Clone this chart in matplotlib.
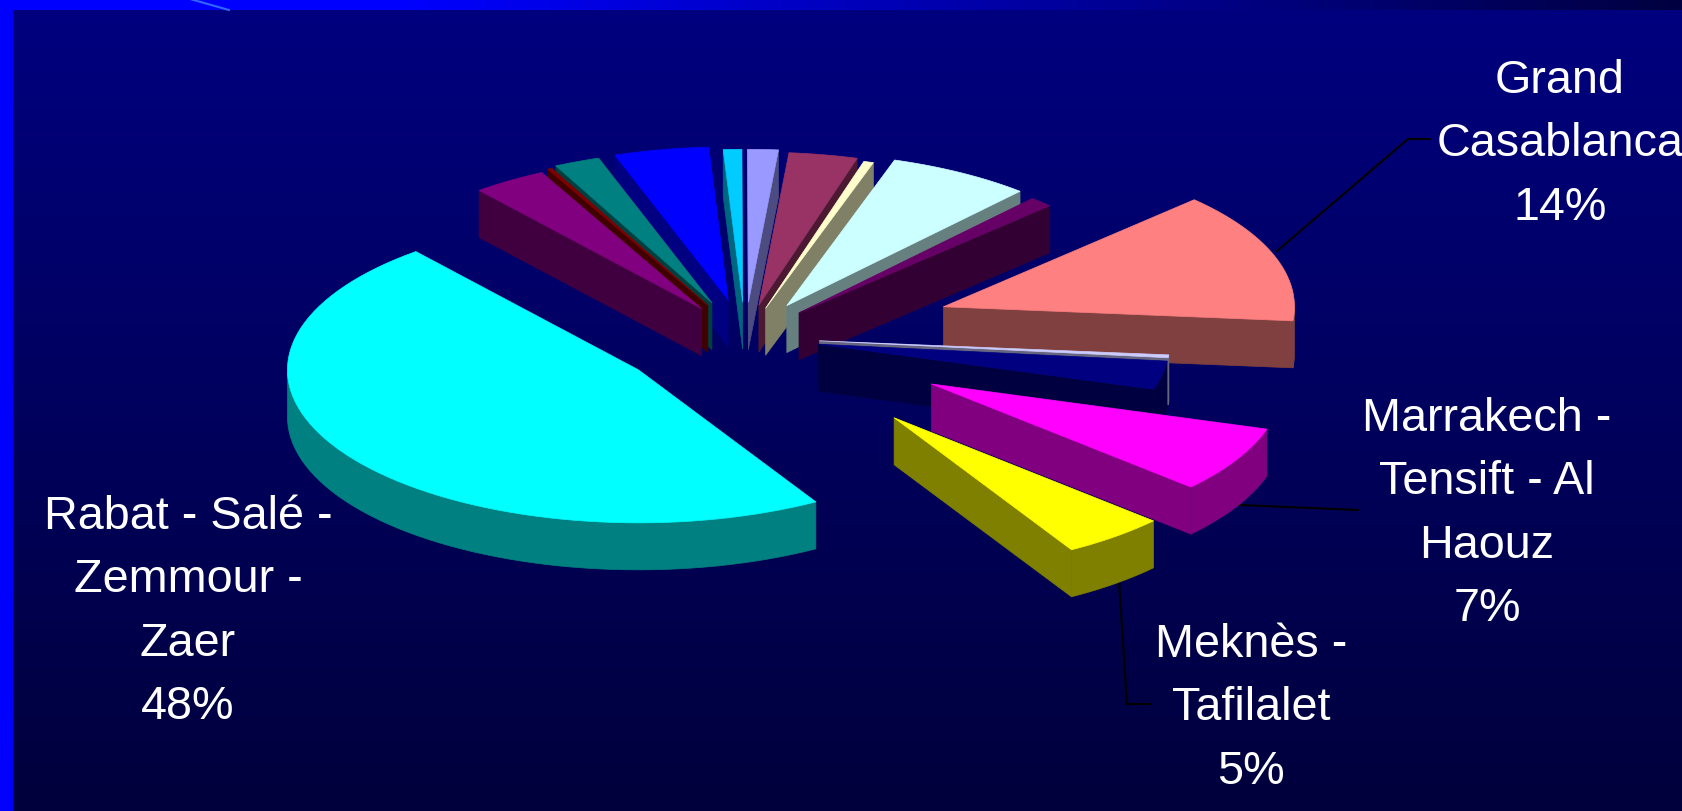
import matplotlib
matplotlib.use("Agg")
import matplotlib.pyplot as plt
from matplotlib.patches import Polygon
import numpy as np

# share of each region, clockwise from the Grand Casablanca slice
values = [13.8, 0.3, 3.0, 7, 4.8, 47.5, 3.4, 0.2, 2.1, 4.35, 0.85, 1.4, 3.15, 0.45, 6.6, 1.1]
top_colors = ["#FF8080", "#CCCCFF", "#000080", "#FF00FF", "#FFFF00", "#00FFFF",
              "#800080", "#800000", "#008080", "#0000FF", "#00CCFF", "#9999FF",
              "#993366", "#FFFFCC", "#CCFFFF", "#660066"]
side_colors = ["#804040", "#666680", "#000040", "#800080", "#808000", "#008080",
               "#400040", "#400000", "#004040", "#000080", "#006680", "#4C4C80",
               "#4C1933", "#808066", "#668080", "#330033"]
explode = [0.60, 0.213, 0.213, 0.612, 0.675, 0.37, 0.225, 0.235, 0.245, 0.25, 0.23, 0.23, 0.215, 0.20, 0.24, 0.223]
labels = ["Grand\nCasablanca\n14%", "Marrakech -\nTensift - Al\nHaouz\n7%",
          "Meknès -\nTafilalet\n5%", "Rabat - Salé -\nZemmour -\nZaer\n48%"]

# layout of the pie, in pixels
start_angle = 45.6
center = (745, 338.5)
rx, ry, depth = 351, 153, 47

label_x = [1560, 1487, 1251, 188]
label_y = [144.5, 514, 708.5, 612]
leaders = [([1277, 1408, 1430], [252, 140, 140]),
           ([1239, 1358], [506, 511]),
           ([1119, 1127, 1150], [582, 705, 705])]

W, H = 1683, 812
fig = plt.figure(figsize=(W / 100, H / 100), dpi=100)
ax = fig.add_axes([0, 0, 1, 1])

# slide background
grad = np.linspace(0x80, 0x3c, 256)[:, None] / 255
ax.imshow(np.dstack([0 * grad, 0 * grad, grad]), extent=[0, W, H, 0], aspect="auto", zorder=0)
fade = np.interp(np.linspace(0, W, 512), [0, 400, W], [1, 1, 0x40 / 255])[None, :]
ax.imshow(np.dstack([0 * fade, 0 * fade, fade]), extent=[0, W, 11, 0], aspect="auto", zorder=1)
ax.set_xlim(0, W)
ax.set_ylim(H, 0)
ax.axis("off")
ax.fill_between([0, 13], 0, H, color="#0000FF", lw=0, zorder=1)
ax.plot([190, 229], [0, 11], color="#3366FF", lw=1.5, zorder=1)

# angles from the values
edges = start_angle + np.cumsum([0] + values) * 3.6
mids = (edges[:-1] + edges[1:]) / 2
dist = np.abs((mids + 180) % 360 - 180)

# far slices first so the nearer walls cover them
for n, i in enumerate(np.argsort(dist)):
    m = np.radians(mids[i])
    cx = center[0] + explode[i] * rx * np.sin(m)
    cy = center[1] - explode[i] * ry * np.cos(m)
    th = np.radians(np.linspace(edges[i], edges[i + 1], 80))
    xs = cx + rx * np.sin(th)
    ys = cy - ry * np.cos(th)
    kw = dict(closed=True, lw=0.5, zorder=2 + 0.01 * n)
    # radial walls that face the viewer
    if np.sin(th[-1]) > 0:
        ax.add_patch(Polygon([(cx, cy), (xs[-1], ys[-1]), (xs[-1], ys[-1] + depth), (cx, cy + depth)],
                             fc=side_colors[i], ec=side_colors[i], **kw))
    if np.sin(th[0]) < 0:
        ax.add_patch(Polygon([(cx, cy), (xs[0], ys[0]), (xs[0], ys[0] + depth), (cx, cy + depth)],
                             fc=side_colors[i], ec=side_colors[i], **kw))
    # outer wall on the near half of the arc
    front = np.cos(th) < 0
    if front.sum() > 1:
        fx, fy = xs[front], ys[front]
        pts = np.r_[np.c_[fx, fy], np.c_[fx, fy + depth][::-1]]
        ax.add_patch(Polygon(pts, fc=side_colors[i], ec=side_colors[i], **kw))
    ax.add_patch(Polygon(np.r_[[(cx, cy)], np.c_[xs, ys]], fc=top_colors[i], ec=top_colors[i], **kw))

for lx, ly in leaders:
    ax.plot(lx, ly, color="black", lw=1.5, zorder=1.5)

for t, x, y in zip(labels, label_x, label_y):
    ax.text(x, y, t, color="white", fontsize=33.7, family="Liberation Sans",
            ha="center", va="center", linespacing=1.56, zorder=5)

fig.savefig("out.png", dpi=100)
plt.close()
